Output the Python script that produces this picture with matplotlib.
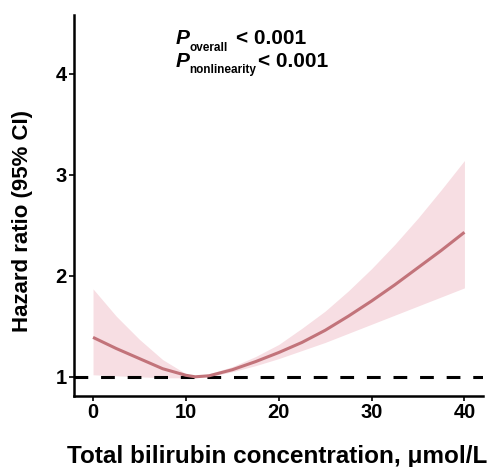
import matplotlib
matplotlib.use('Agg')
import matplotlib.pyplot as plt

plt.rcParams['font.family'] = ['Liberation Sans', 'DejaVu Sans']

# Restricted cubic spline estimates
bilirubin = [0, 2.5, 5, 7.5, 10, 11, 12.5, 15, 17.5, 20, 22.5, 25, 27.5, 30, 32.5, 35, 37.5, 40]
hr = [1.39, 1.28, 1.18, 1.08, 1.015, 1.00, 1.01, 1.07, 1.15, 1.24, 1.34, 1.46, 1.60, 1.75, 1.91, 2.08, 2.25, 2.43]
ci_upper = [1.87, 1.60, 1.37, 1.17, 1.03, 1.00, 1.03, 1.10, 1.20, 1.32, 1.48, 1.65, 1.85, 2.07, 2.31, 2.57, 2.85, 3.14]
ci_lower = [1.02, 1.01, 1.00, 0.99, 0.99, 1.00, 1.00, 1.05, 1.11, 1.18, 1.26, 1.34, 1.43, 1.52, 1.61, 1.70, 1.79, 1.88]

x_ticks = [0, 10, 20, 30, 40]
y_ticks = [1, 2, 3, 4]

line_color = '#C2737A'
band_color = '#F7DEE3'

fig = plt.figure(figsize=(4.92, 4.67), dpi=100)
ax = fig.add_axes([74 / 492, 1 - 396 / 467, (483 - 74) / 492, (396 - 15) / 467])

ax.fill_between(bilirubin, ci_lower, ci_upper, color=band_color, lw=0, zorder=1)
ax.plot(bilirubin, hr, color=line_color, lw=2.2, zorder=3, solid_capstyle='butt')
ax.axhline(1, color='black', lw=2.2, ls=(0, (4.5, 4.2)), zorder=2)

ax.set_xlim(-2.05, 42.0)
ax.set_ylim(0.81, 4.58)
ax.set_xticks(x_ticks)
ax.set_yticks(y_ticks)
ax.set_xticklabels([str(t) for t in x_ticks], fontsize=14.5, fontweight='bold')
ax.set_yticklabels([str(t) for t in y_ticks], fontsize=14.5, fontweight='bold')

for side in ['top', 'right']:
    ax.spines[side].set_visible(False)
for side in ['left', 'bottom']:
    ax.spines[side].set_linewidth(1.8)
ax.tick_params(width=1.2, length=3.8)
ax.tick_params(axis='x', pad=1)
ax.tick_params(axis='y', pad=1.5)

# axis titles placed in figure pixels
def ftxt(px, py, s, **kw):
    fig.text(px / 492, 1 - py / 467, s, **kw)

ftxt(277, 463, 'Total bilirubin concentration, μmol/L', fontsize=17.5,
     fontweight='bold', ha='center', va='baseline')
ftxt(22.5, 221, 'Hazard ratio (95% CI)', fontsize=16, fontweight='bold',
     rotation=90, ha='center', va='center')

# P-value annotation
ftxt(176, 44, 'P', fontsize=15, fontweight='bold', fontstyle='italic', va='baseline')
ftxt(189, 51, 'overall', fontsize=8.5, fontweight='bold', va='baseline')
ftxt(236, 44, '< 0.001', fontsize=15, fontweight='bold', va='baseline')
ftxt(176, 67, 'P', fontsize=15, fontweight='bold', fontstyle='italic', va='baseline')
ftxt(189, 73, 'nonlinearity', fontsize=8.5, fontweight='bold', va='baseline')
ftxt(258, 67, '< 0.001', fontsize=15, fontweight='bold', va='baseline')

fig.savefig('out.png', dpi=100)
